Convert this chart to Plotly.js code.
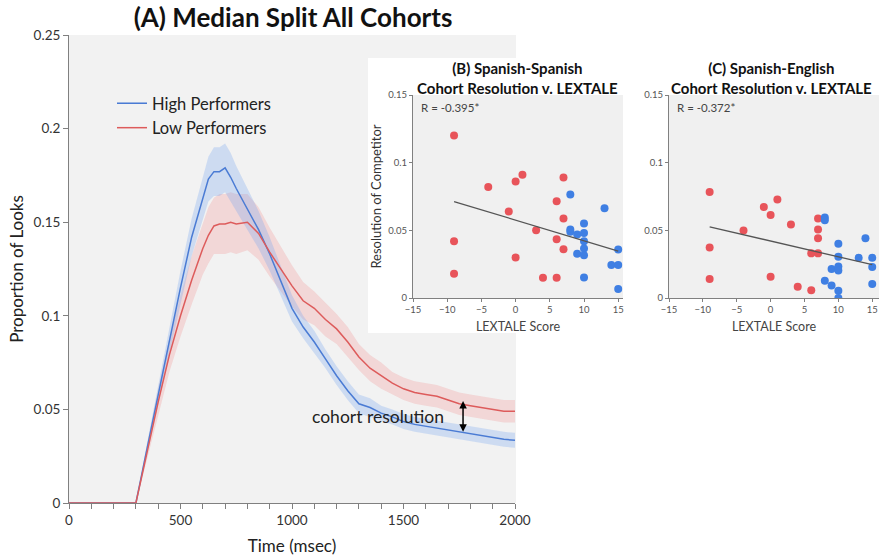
<!DOCTYPE html>
<html>
<head>
<meta charset="utf-8">
<script src="https://cdn.plot.ly/plotly-3.0.1.min.js"></script>
<style>html,body{margin:0;padding:0;background:#fff;}#chart{width:882px;height:557px;}</style>
</head>
<body>
<div id="chart"></div>
<script>
// ---- Panel A: median split time course ----
var timeMs = [0,300,350,400,450,500,550,600,625,650,675,700,725,750,800,850,900,950,1000,1050,1100,1150,1200,1250,1300,1350,1400,1450,1500,1550,1600,1650,1700,1750,1800,1850,1900,1950,2000];
var highPerf = [0,0,0.029,0.058,0.087,0.115,0.142,0.163,0.173,0.177,0.177,0.179,0.174,0.168,0.157,0.146,0.133,0.119,0.104,0.094,0.086,0.077,0.068,0.060,0.053,0.051,0.048,0.046,0.0435,0.042,0.041,0.040,0.039,0.038,0.037,0.036,0.035,0.034,0.0335];
var lowPerf = [0,0,0.027,0.054,0.079,0.100,0.119,0.136,0.143,0.148,0.149,0.149,0.150,0.149,0.150,0.144,0.134,0.125,0.116,0.108,0.104,0.098,0.093,0.086,0.078,0.072,0.068,0.064,0.061,0.059,0.058,0.057,0.055,0.053,0.052,0.051,0.050,0.049,0.049];
var highSE = [0,0,0.003,0.005,0.007,0.009,0.010,0.012,0.012,0.013,0.013,0.013,0.013,0.012,0.011,0.010,0.009,0.008,0.007,0.006,0.006,0.005,0.005,0.005,0.005,0.005,0.004,0.004,0.004,0.004,0.004,0.004,0.004,0.004,0.004,0.004,0.004,0.004,0.004];
var lowSE = [0,0,0.004,0.007,0.009,0.011,0.013,0.014,0.015,0.015,0.016,0.016,0.016,0.016,0.015,0.014,0.013,0.012,0.011,0.010,0.009,0.009,0.008,0.008,0.007,0.007,0.007,0.006,0.006,0.006,0.006,0.006,0.006,0.006,0.006,0.006,0.006,0.006,0.006];

// ---- Panel B: Spanish-Spanish ----
var bLowX = [-9,-9,-9,-4,-1,0,1,0,3,4,6,6,6,7,7,7];
var bLowY = [0.120,0.042,0.018,0.082,0.064,0.086,0.091,0.030,0.050,0.015,0.015,0.0435,0.0715,0.089,0.0587,0.036];
var bHighX = [8,8,8,9,9,10,10,10,10,10,10,13,14,15,15,15];
var bHighY = [0.0764,0.0506,0.049,0.047,0.0327,0.055,0.048,0.042,0.0366,0.0315,0.0152,0.0663,0.0243,0.0359,0.0243,0.0066];
var bFitX = [-9,15];
var bFitY = [0.0713,0.0346];
var bR = 'R = -0.395*';

// ---- Panel C: Spanish-English ----
var cLowX = [-9,-9,-9,-4,-1,0,1,0,3,4,6,6,7,7,7,7];
var cLowY = [0.0784,0.0373,0.014,0.0499,0.0673,0.0614,0.0727,0.0157,0.0543,0.0084,0.0057,0.033,0.033,0.0587,0.0506,0.0442];
var cHighX = [8,8,8,9,9,10,10,10,10,10,10,13,14,15,15,15];
var cHighY = [0.0595,0.0575,0.0128,0.0214,0.0093,0.040,0.0305,0.0233,0.0204,0.0054,0.0,0.0297,0.0442,0.0297,0.0229,0.0103];
var cFitX = [-9,15];
var cFitY = [0.0526,0.0246];
var cR = 'R = -0.372*';

var BLUE = '#4a7bd4', RED = '#dd5b5b';
var DOT_BLUE = '#3f7fe3', DOT_RED = '#e8545a';

function band(x, y, se) {
  var up = [], lo = [];
  for (var i = 0; i < x.length; i++) { up.push(y[i] + se[i]); lo.push(y[i] - se[i]); }
  return { xs: x.concat(x.slice().reverse()), ys: up.concat(lo.reverse()) };
}
var hb = band(timeMs, highPerf, highSE);
var lb = band(timeMs, lowPerf, lowSE);

var traces = [
  {x: lb.xs, y: lb.ys, type:'scatter', mode:'lines', fill:'toself', fillcolor:'rgba(240,120,120,0.22)', line:{width:0}, hoverinfo:'skip', showlegend:false, xaxis:'x', yaxis:'y'},
  {x: hb.xs, y: hb.ys, type:'scatter', mode:'lines', fill:'toself', fillcolor:'rgba(110,160,240,0.28)', line:{width:0}, hoverinfo:'skip', showlegend:false, xaxis:'x', yaxis:'y'},
  {x: timeMs, y: highPerf, type:'scatter', mode:'lines', name:'High Performers', line:{color:BLUE, width:1.5}, xaxis:'x', yaxis:'y'},
  {x: timeMs, y: lowPerf, type:'scatter', mode:'lines', name:'Low Performers', line:{color:RED, width:1.5}, xaxis:'x', yaxis:'y'},

  {x: bLowX, y: bLowY, type:'scatter', mode:'markers', marker:{color:DOT_RED, size:8}, showlegend:false, xaxis:'x2', yaxis:'y2'},
  {x: bHighX, y: bHighY, type:'scatter', mode:'markers', marker:{color:DOT_BLUE, size:8}, showlegend:false, xaxis:'x2', yaxis:'y2'},
  {x: bFitX, y: bFitY, type:'scatter', mode:'lines', line:{color:'#555', width:1.3}, showlegend:false, xaxis:'x2', yaxis:'y2'},

  {x: cLowX, y: cLowY, type:'scatter', mode:'markers', marker:{color:DOT_RED, size:8}, showlegend:false, xaxis:'x3', yaxis:'y3'},
  {x: cHighX, y: cHighY, type:'scatter', mode:'markers', marker:{color:DOT_BLUE, size:8}, showlegend:false, xaxis:'x3', yaxis:'y3'},
  {x: cFitX, y: cFitY, type:'scatter', mode:'lines', line:{color:'#555', width:1.3}, showlegend:false, xaxis:'x3', yaxis:'y3'}
];

var W = 882, H = 557;
function px(v){ return v / W; }
function py(v){ return 1 - v / H; }

var AX = '#808080';
var insetX = {
  range:[-15,15.7], tickvals:[-15,-10,-5,0,5,10,15], ticks:'outside', ticklen:3, tickcolor:AX,
  showline:true, linecolor:AX, linewidth:1, showgrid:false, zeroline:false,
  tickfont:{size:9.5, color:'#555'}, title:{text:'LEXTALE Score', font:{size:12.5, color:'#444'}, standoff:7}
};
var insetY = {
  range:[0,0.15], tickvals:[0,0.05,0.1,0.15], ticks:'outside', ticklen:3, tickcolor:AX,
  showline:true, linecolor:AX, linewidth:1, showgrid:false, zeroline:false,
  tickfont:{size:9.5, color:'#555'}
};

var layout = {
  width:W, height:H, margin:{l:0, r:0, t:0, b:0},
  paper_bgcolor:'#ffffff', plot_bgcolor:'rgba(0,0,0,0)',
  font:{family:'Lato, "Open Sans", sans-serif', color:'#222'},
  title:{text:'<b>(A) Median Split All Cohorts</b>', x:px(293), xanchor:'center', y:py(18), yanchor:'middle', font:{size:26, color:'#111'}},
  showlegend:true,
  legend:{x:px(112), y:py(86), xanchor:'left', yanchor:'top', bgcolor:'rgba(0,0,0,0)', tracegroupgap:0, font:{size:16.5, color:'#222'}},
  xaxis:{domain:[px(69), px(515)], range:[0,2000], dtick:500, ticks:'outside', ticklen:5, tickcolor:AX,
    showline:true, linecolor:AX, showgrid:false, zeroline:false, tickfont:{size:13.5, color:'#333'},
    minor:{dtick:100, ticks:'outside', ticklen:5, tickcolor:AX, showgrid:false},
    title:{text:'Time (msec)', font:{size:17, color:'#222'}, standoff:12}, anchor:'y'},
  yaxis:{domain:[py(503), py(35)], range:[0,0.25], dtick:0.05, ticks:'outside', ticklen:5, tickcolor:AX,
    showline:true, linecolor:AX, showgrid:false, zeroline:false, tickfont:{size:13.5, color:'#333'},
    title:{text:'Proportion of Looks', font:{size:17, color:'#222'}, standoff:5}, anchor:'x'},
  xaxis2: Object.assign({}, insetX, {domain:[px(413), px(623)], anchor:'y2'}),
  yaxis2: Object.assign({}, insetY, {domain:[py(298), py(95)], anchor:'x2',
    title:{text:'Resolution of Competitor', font:{size:13, color:'#333'}, standoff:3}}),
  xaxis3: Object.assign({}, insetX, {range:[-15,16], domain:[px(669), px(879)], anchor:'y3'}),
  yaxis3: Object.assign({}, insetY, {domain:[py(298), py(95)], anchor:'x3'}),
  shapes:[
    {type:'rect', xref:'paper', yref:'paper', x0:px(69), x1:px(516), y0:py(503), y1:py(35), fillcolor:'#f2f2f2', line:{width:0}, layer:'below'},
    {type:'rect', xref:'paper', yref:'paper', x0:px(368), x1:px(630), y0:py(333), y1:py(58), fillcolor:'#ffffff', line:{width:0}, layer:'below'},
    {type:'rect', xref:'paper', yref:'paper', x0:px(413), x1:px(623), y0:py(298), y1:py(95), fillcolor:'#f0f0f0', line:{width:0}, layer:'below'},
    {type:'rect', xref:'paper', yref:'paper', x0:px(669), x1:px(879), y0:py(298), y1:py(95), fillcolor:'#f0f0f0', line:{width:0}, layer:'below'}
  ],
  annotations:[
    {xref:'paper', yref:'paper', x:px(517), y:py(78), text:'<b>(B) Spanish-Spanish<br>Cohort Resolution v. LEXTALE</b>', showarrow:false, font:{size:15, color:'#111'}, xanchor:'center', yanchor:'middle', align:'center'},
    {xref:'paper', yref:'paper', x:px(771), y:py(78), text:'<b>(C) Spanish-English<br>Cohort Resolution v. LEXTALE</b>', showarrow:false, font:{size:15, color:'#111'}, xanchor:'center', yanchor:'middle', align:'center'},
    {xref:'x2', yref:'y2', x:-14.1, y:0.141, text:bR, showarrow:false, xanchor:'left', yanchor:'middle', font:{size:11.5, color:'#444'}},
    {xref:'x3', yref:'y3', x:-14.1, y:0.141, text:cR, showarrow:false, xanchor:'left', yanchor:'middle', font:{size:11.5, color:'#444'}},
    {xref:'x', yref:'y', x:1386, y:0.046, text:'cohort resolution', showarrow:false, xanchor:'center', yanchor:'middle', font:{size:17.5, color:'#222'}},
    {xref:'x', yref:'y', x:1767, y:0.0545, ax:1767, ay:0.0372, axref:'x', ayref:'y', text:'', showarrow:true,
      arrowside:'end+start', arrowhead:2, arrowsize:1, arrowwidth:1.5, arrowcolor:'#000', standoff:0, startstandoff:0}
  ]
};

Plotly.newPlot('chart', traces, layout, {staticPlot:true, displayModeBar:false});
</script>
</body>
</html>
